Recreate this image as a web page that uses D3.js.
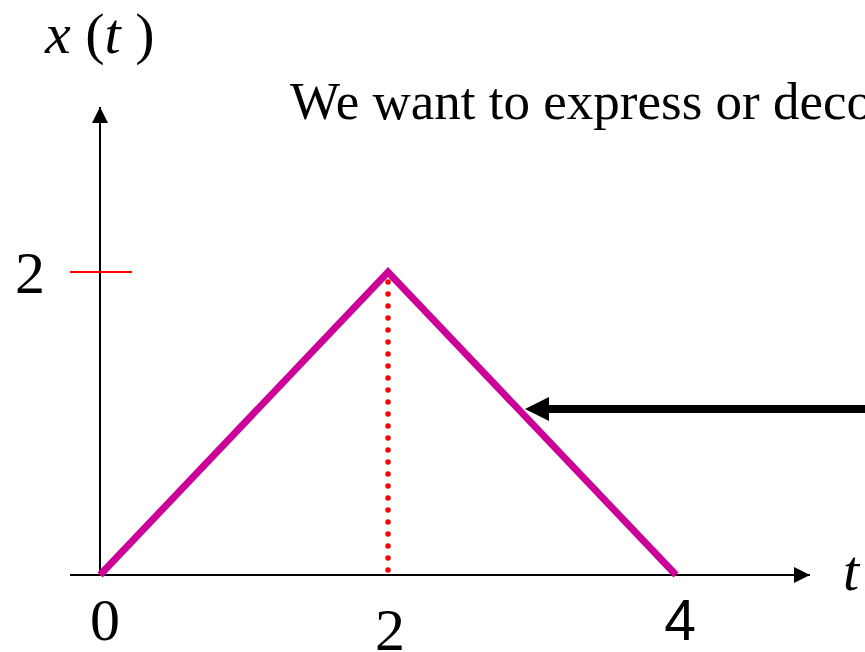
<!DOCTYPE html>
<html>
<head>
<meta charset="utf-8">
<script src="https://cdn.jsdelivr.net/npm/d3@7"></script>
<style>
  html, body { margin: 0; padding: 0; background: #fff; overflow: hidden; }
  svg { display: block; }
</style>
</head>
<body>
<svg id="chart" width="865" height="652"></svg>
<script>
// triangle signal x(t)
const tValues = [0, 2, 4]
const xValues = [0, 2, 0]
const tTicks = [0, 2, 4]
const yTicks = [2]
const title = "We want to express or decompose x(t) as a sum of simpler signals"

const width = 865
const height = 652
const svg = d3.select("#chart")

// scales
const xScale = d3.scaleLinear().domain([0, 4]).range([100, 676])
const yScale = d3.scaleLinear().domain([0, 2]).range([575, 272])

const serif = "'Liberation Serif', 'Times New Roman', serif"
const sans = "'Liberation Sans', Arial, sans-serif"

// arrow markers
const defs = svg.append("defs")
defs.append("marker")
    .attr("id", "axisHead")
    .attr("viewBox", "0 0 10 10")
    .attr("refX", 10).attr("refY", 5)
    .attr("markerUnits", "userSpaceOnUse")
    .attr("markerWidth", 16).attr("markerHeight", 16)
    .attr("orient", "auto")
    .append("path").attr("d", "M0,0 L10,5 L0,10 Z").attr("fill", "#000")

// axes
svg.append("line")
    .attr("x1", 70).attr("x2", 810)
    .attr("y1", yScale(0)).attr("y2", yScale(0))
    .attr("stroke", "#000").attr("stroke-width", 2)
    .attr("marker-end", "url(#axisHead)")
svg.append("line")
    .attr("x1", xScale(0)).attr("x2", xScale(0))
    .attr("y1", yScale(0)).attr("y2", 107)
    .attr("stroke", "#000").attr("stroke-width", 2)
    .attr("marker-end", "url(#axisHead)")

// y tick (red)
svg.selectAll(".ytick")
    .data(yTicks)
    .enter()
    .append("line")
    .attr("x1", 70).attr("x2", 132)
    .attr("y1", d => yScale(d)).attr("y2", d => yScale(d))
    .attr("stroke", "#ff0000").attr("stroke-width", 2)

svg.selectAll(".ylab")
    .data(yTicks)
    .enter()
    .append("text")
    .attr("x", 30).attr("y", d => yScale(d) + 21)
    .attr("text-anchor", "middle")
    .attr("font-family", serif).attr("font-size", 60)
    .text(d => d)

// dotted red line at peak
svg.append("line")
    .attr("x1", xScale(2)).attr("x2", xScale(2))
    .attr("y1", yScale(2) + 10).attr("y2", yScale(0))
    .attr("stroke", "#ff0000").attr("stroke-width", 5.5)
    .attr("stroke-linecap", "round")
    .attr("stroke-dasharray", "0 12")

// signal
const line = d3.line()
    .x((d, i) => xScale(tValues[i]))
    .y(d => yScale(d))
svg.append("path")
    .attr("d", line(xValues))
    .attr("fill", "none")
    .attr("stroke", "#cc0099")
    .attr("stroke-width", 7)

// x tick labels
const xLabelPos = [
    { dx: 5, y: 640, font: serif },
    { dx: 2, y: 650, font: serif },
    { dx: 4, y: 640, font: sans }
]
svg.selectAll(".xlab")
    .data(tTicks)
    .enter()
    .append("text")
    .attr("x", (d, i) => xScale(d) + xLabelPos[i].dx)
    .attr("y", (d, i) => xLabelPos[i].y)
    .attr("text-anchor", "middle")
    .attr("font-family", (d, i) => xLabelPos[i].font)
    .attr("font-size", (d, i) => i == 2 ? 57 : 60)
    .text(d => d)

// axis titles
const yTitle = svg.append("text")
    .attr("x", 45).attr("y", 53)
    .attr("font-family", serif).attr("font-size", 58)
yTitle.append("tspan").attr("font-style", "italic").text("x")
yTitle.append("tspan").text(" (")
yTitle.append("tspan").attr("font-style", "italic").text("t")
yTitle.append("tspan").text(" )")

svg.append("text")
    .attr("x", 843).attr("y", 590)
    .attr("font-family", serif).attr("font-size", 58)
    .attr("font-style", "italic")
    .text("t")

// heading (runs past the right edge, as in the slide)
svg.append("text")
    .attr("x", 290).attr("y", 119)
    .attr("font-family", serif).attr("font-size", 53)
    .text(title)

// pointer arrow
svg.append("line")
    .attr("x1", width + 20).attr("x2", 546)
    .attr("y1", 409).attr("y2", 409)
    .attr("stroke", "#000").attr("stroke-width", 8)
svg.append("path")
    .attr("d", "M525,409 L549,397 L549,421 Z")
    .attr("fill", "#000")
</script>
</body>
</html>
